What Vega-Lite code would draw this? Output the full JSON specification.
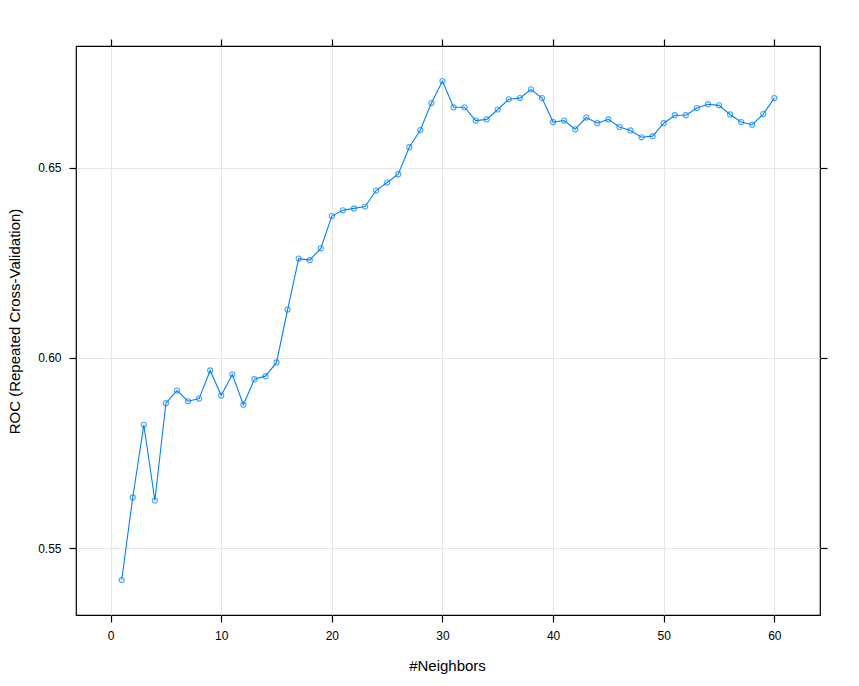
{
  "$schema": "https://vega.github.io/schema/vega-lite/v6.json",
  "width": 744,
  "height": 569,
  "autosize": "none",
  "padding": {"left": 76, "top": 46, "right": 39, "bottom": 71},
  "background": "white",
  "config": {
    "font": "Liberation Sans",
    "view": {"stroke": "black", "strokeWidth": 1.2},
    "axis": {
      "labelFont": "Liberation Sans",
      "titleFont": "Liberation Sans",
      "labelColor": "black",
      "titleColor": "black",
      "labelFontSize": 12,
      "titleFontSize": 15,
      "titleFontWeight": "normal",
      "tickColor": "black",
      "tickSize": 7,
      "tickWidth": 1.2,
      "domain": false,
      "gridColor": "#e6e6e6",
      "gridWidth": 1
    }
  },
  "data": {
    "values": [
      {"k": 1, "roc": 0.5416},
      {"k": 2, "roc": 0.5633},
      {"k": 3, "roc": 0.5824},
      {"k": 4, "roc": 0.5625},
      {"k": 5, "roc": 0.5881},
      {"k": 6, "roc": 0.5914},
      {"k": 7, "roc": 0.5886},
      {"k": 8, "roc": 0.5893},
      {"k": 9, "roc": 0.5967},
      {"k": 10, "roc": 0.5901},
      {"k": 11, "roc": 0.5957},
      {"k": 12, "roc": 0.5877},
      {"k": 13, "roc": 0.5944},
      {"k": 14, "roc": 0.5952},
      {"k": 15, "roc": 0.5988},
      {"k": 16, "roc": 0.6127},
      {"k": 17, "roc": 0.6261},
      {"k": 18, "roc": 0.6257},
      {"k": 19, "roc": 0.6288},
      {"k": 20, "roc": 0.6373},
      {"k": 21, "roc": 0.6388},
      {"k": 22, "roc": 0.6393},
      {"k": 23, "roc": 0.6398},
      {"k": 24, "roc": 0.6440},
      {"k": 25, "roc": 0.6461},
      {"k": 26, "roc": 0.6483},
      {"k": 27, "roc": 0.6554},
      {"k": 28, "roc": 0.6599},
      {"k": 29, "roc": 0.6670},
      {"k": 30, "roc": 0.6728},
      {"k": 31, "roc": 0.6659},
      {"k": 32, "roc": 0.6659},
      {"k": 33, "roc": 0.6624},
      {"k": 34, "roc": 0.6627},
      {"k": 35, "roc": 0.6653},
      {"k": 36, "roc": 0.6680},
      {"k": 37, "roc": 0.6683},
      {"k": 38, "roc": 0.6706},
      {"k": 39, "roc": 0.6683},
      {"k": 40, "roc": 0.6620},
      {"k": 41, "roc": 0.6624},
      {"k": 42, "roc": 0.6601},
      {"k": 43, "roc": 0.6632},
      {"k": 44, "roc": 0.6617},
      {"k": 45, "roc": 0.6627},
      {"k": 46, "roc": 0.6607},
      {"k": 47, "roc": 0.6598},
      {"k": 48, "roc": 0.6580},
      {"k": 49, "roc": 0.6583},
      {"k": 50, "roc": 0.6617},
      {"k": 51, "roc": 0.6638},
      {"k": 52, "roc": 0.6638},
      {"k": 53, "roc": 0.6657},
      {"k": 54, "roc": 0.6667},
      {"k": 55, "roc": 0.6664},
      {"k": 56, "roc": 0.6640},
      {"k": 57, "roc": 0.6620},
      {"k": 58, "roc": 0.6613},
      {"k": 59, "roc": 0.6641},
      {"k": 60, "roc": 0.6683}
    ]
  },
  "layer": [
    {
      "layer": [
        {
          "mark": {"type": "line", "color": "#0080ff", "strokeWidth": 1.1}
        },
        {
          "mark": {"type": "point", "shape": "circle", "filled": false, "color": "#0080ff", "size": 26, "strokeWidth": 1.1}
        }
      ],
      "encoding": {
        "x": {
          "field": "k",
          "type": "quantitative",
          "scale": {"domain": [-3.13, 64.13], "nice": false, "zero": false},
          "axis": {
            "values": [0, 10, 20, 30, 40, 50, 60],
            "title": "#Neighbors",
            "labelPadding": 8,
            "titleAnchor": "middle",
            "titleBaseline": "middle",
            "titleX": 371,
            "titleY": 50
          }
        },
        "y": {
          "field": "roc",
          "type": "quantitative",
          "scale": {"domain": [0.5324, 0.682], "nice": false, "zero": false},
          "axis": {
            "values": [0.55, 0.6, 0.65],
            "format": ".2f",
            "title": "ROC (Repeated Cross-Validation)",
            "labelPadding": 8,
            "titleAngle": -90,
            "titleAlign": "center",
            "titleBaseline": "middle",
            "titleX": -62,
            "titleY": 275
          }
        }
      }
    },
    {
      "mark": {"type": "point", "opacity": 0},
      "encoding": {
        "x": {
          "field": "k",
          "type": "quantitative",
          "axis": {"orient": "top", "values": [0, 10, 20, 30, 40, 50, 60], "labels": false, "grid": false, "title": null}
        },
        "y": {
          "field": "roc",
          "type": "quantitative",
          "axis": {"orient": "right", "values": [0.55, 0.6, 0.65], "labels": false, "grid": false, "title": null}
        }
      }
    }
  ],
  "resolve": {"axis": {"x": "independent", "y": "independent"}}
}
